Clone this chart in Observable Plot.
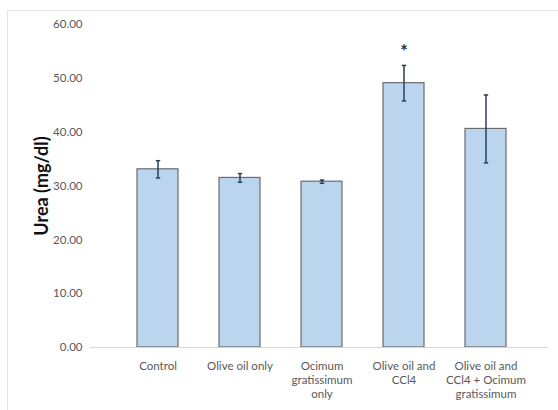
<!DOCTYPE html>
<html>
<head>
<meta charset="utf-8">
<script src="https://cdn.jsdelivr.net/npm/d3@7"></script>
<script src="https://cdn.jsdelivr.net/npm/@observablehq/plot@0.6"></script>
<style>
  html, body { margin: 0; padding: 0; background: #fff; }
  #wrap { position: relative; width: 558px; height: 410px; overflow: hidden; }
  #frame { position: absolute; left: 7px; top: 10px; width: 600px; height: 450px;
           border: 1px solid #e4e4e4; box-sizing: border-box; pointer-events: none; }
  #chart svg { display: block; }
  g[aria-label="y-axis label"] text { font-weight: bold; font-size: 18px; fill: #111; }
</style>
</head>
<body>
<div id="wrap">
  <div id="chart"></div>
  <div id="frame"></div>
</div>
<script>
// Treatment groups, mean urea (mg/dl) and error (±)
const groups = [
  "Control",
  "Olive oil only",
  "Ocimum\ngratissimum\nonly",
  "Olive oil and\nCCl4",
  "Olive oil and\nCCl4 + Ocimum\ngratissimum"
];
const means = [33.1, 31.5, 30.8, 49.1, 40.6];
const errors = [1.6, 0.8, 0.3, 3.3, 6.3];
const significant = [false, false, false, true, false];
const yTicks = [0, 10, 20, 30, 40, 50, 60];

const data = groups.map((g, i) => ({
  group: g,
  mean: means[i],
  lo: means[i] - errors[i],
  hi: means[i] + errors[i],
  sig: significant[i]
}));

// Short horizontal stroke used as the error-bar cap
const capSymbol = {
  draw(context, size) {
    const w = Math.sqrt(size);
    context.moveTo(-w / 2, 0);
    context.lineTo(w / 2, 0);
  }
};

const fontFamily = "Lato, 'Open Sans', sans-serif";
const errColor = "#2a3f5a";

const chart = Plot.plot({
  width: 558,
  height: 410,
  marginTop: 24,
  marginBottom: 63,
  marginLeft: 95,
  marginRight: 10,
  style: { fontFamily, fontSize: "11.5px", color: "#595959", background: "transparent" },
  x: { domain: groups, padding: 0.5, label: null },
  y: { domain: [0, 60], label: "Urea (mg/dl)" },
  marks: [
    Plot.barY(data, { x: "group", y: "mean", fill: "#bcd5ee", stroke: "#6b6b6b", strokeWidth: 1.2 }),
    Plot.ruleY([0], { stroke: "#d6d6d6", insetLeft: -5 }),
    Plot.ruleX(data, { x: "group", y1: "lo", y2: "hi", stroke: errColor, strokeWidth: 1.5 }),
    Plot.dot(data, { x: "group", y: "hi", symbol: capSymbol, r: 2.5, fill: "none", stroke: errColor, strokeWidth: 1.5 }),
    Plot.dot(data, { x: "group", y: "lo", symbol: capSymbol, r: 2.5, fill: "none", stroke: errColor, strokeWidth: 1.5 }),
    Plot.text(data.filter(d => d.sig), { x: "group", y: "hi", text: () => "*", dy: -13,
      fontSize: 18, fontWeight: "bold", fill: "#333" }),
    Plot.axisY({ ticks: yTicks, tickFormat: d => d.toFixed(2), tickSize: 0, tickPadding: 13,
      label: "Urea (mg/dl)", labelAnchor: "center", labelArrow: "none", labelOffset: 60 }),
    Plot.axisX({ tickSize: 0, tickPadding: 13, lineHeight: 1.2, label: null })
  ]
});

document.getElementById("chart").appendChild(chart);
</script>
</body>
</html>
